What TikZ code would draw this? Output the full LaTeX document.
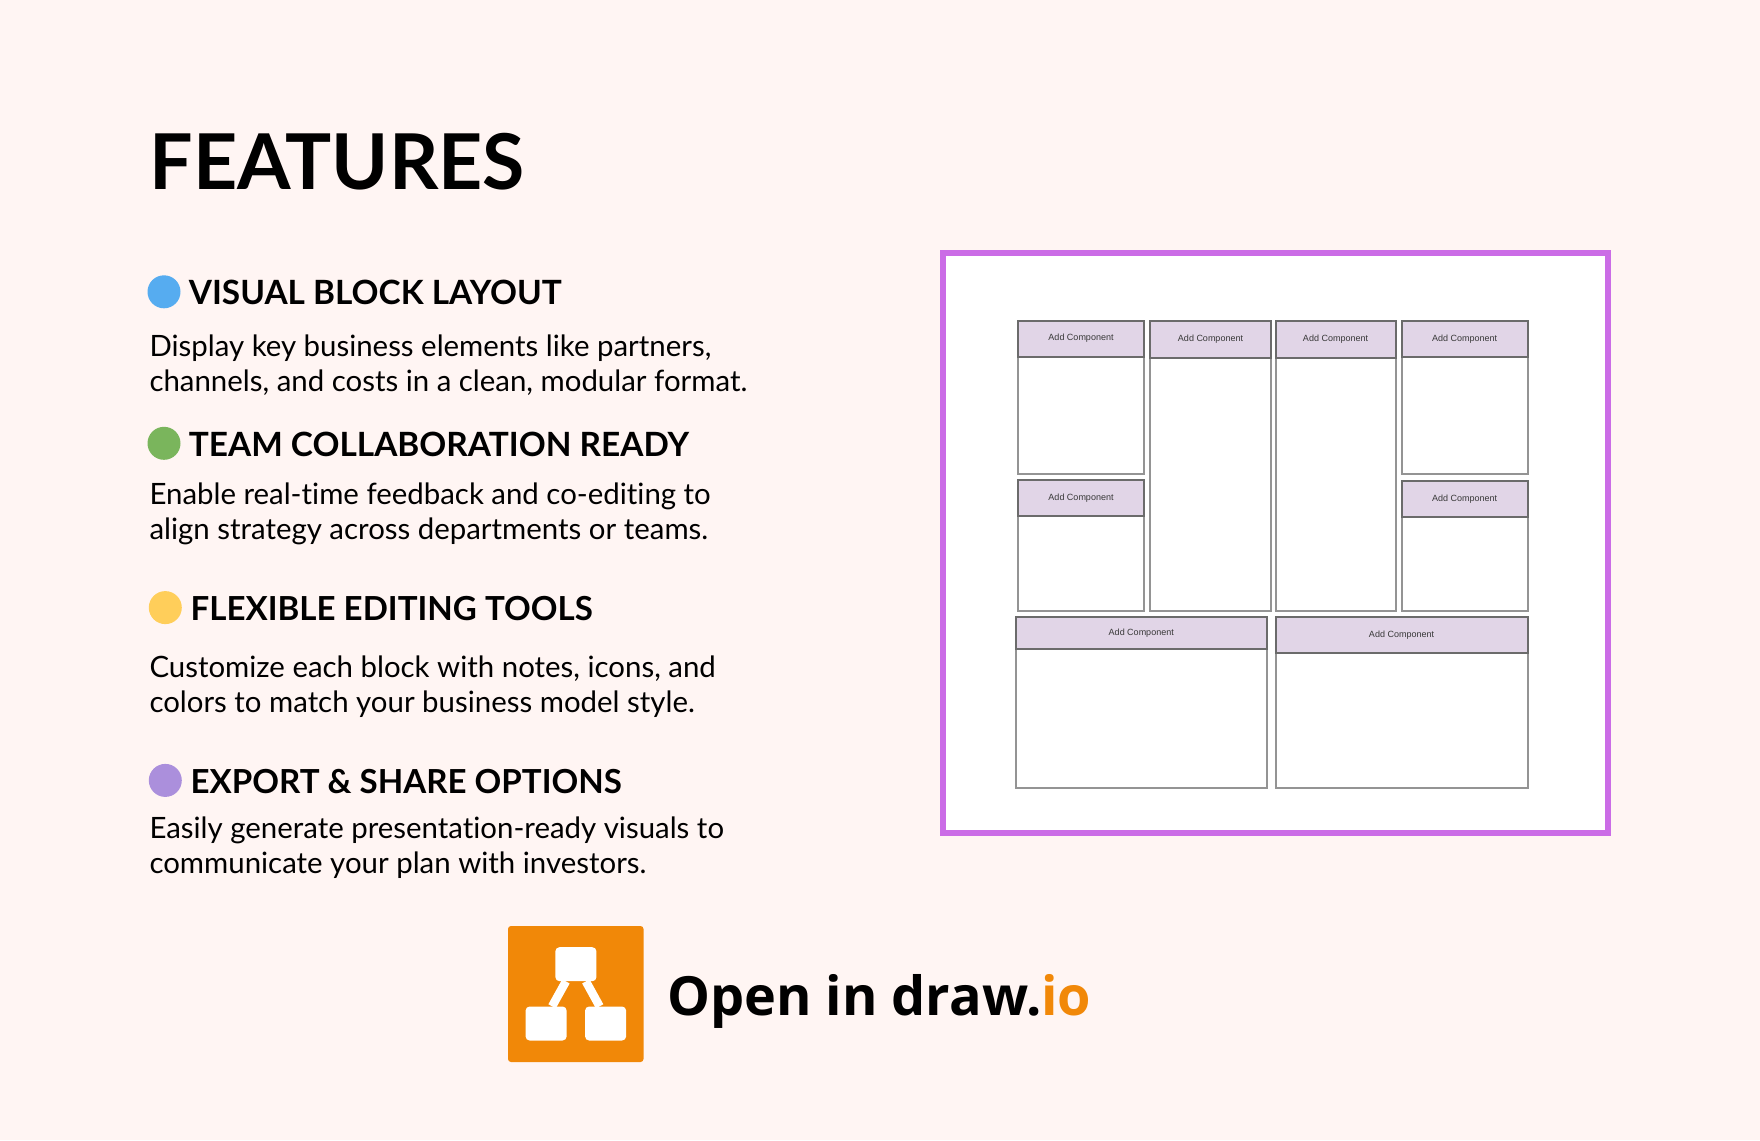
\documentclass[tikz,border=0pt]{standalone}
\usepackage{fontspec}
\newfontfamily\latofont[Ligatures=NoCommon]{Lato}
\newfontfamily\logofont{Open Sans}
\newfontfamily\cardfont{Liberation Sans}
\definecolor{pagebg}{HTML}{FFF5F3}
\definecolor{framepurple}{HTML}{CB6CE6}
\definecolor{headfill}{HTML}{E1D5E7}
\definecolor{drawioorange}{HTML}{F18808}
\definecolor{dotblue}{HTML}{56ACF0}
\definecolor{dotgreen}{HTML}{7AB55C}
\definecolor{dotyellow}{HTML}{FFCE5A}
\definecolor{dotpurple}{HTML}{AB8FDC}
\tikzset{
    titletext/.style={anchor=base west,inner sep=0pt,font=\latofont\bfseries\fontsize{77}{90}\selectfont},
    headtext/.style={anchor=base west,inner sep=0pt,font=\latofont\bfseries\fontsize{33.4}{40}\selectfont},
    headshort/.style={anchor=base west,inner sep=0pt,font=\latofont\bfseries\fontsize{33.1}{40}\selectfont},
    bodytext/.style={anchor=north west,inner sep=0pt,align=left,font=\latofont\fontsize{29.4}{35}\selectfont},
    featuredot/.style={circle,inner sep=0pt,minimum size=33},
    cardbox/.style={draw=black!42,line width=2pt,fill=white,anchor=north west,inner sep=0pt},
    cardhead/.style={draw=black!58,line width=2pt,fill=headfill,anchor=north west,inner sep=0pt,text=black!78,font=\cardfont\fontsize{9}{11}\selectfont},
    logonode/.style={fill=white,rounded corners=4pt,minimum width=41,minimum height=34,inner sep=0pt},
    logolink/.style={white,line width=8.5pt},
}
\begin{document}
\begin{tikzpicture}[x=1pt,y=-1pt]
                \useasboundingbox (0,0) rectangle (1760,1140);
                \fill[pagebg] (0,0) rectangle (1760,1140);

                \node[titletext] (title) at(149.6,189.5){FEATURES};

                \node[featuredot,fill=dotblue] (dotA) at(164,291.8){};
                \node[headtext] (headA) at(188.6,304.8){VISUAL BLOCK LAYOUT};
                \node[bodytext] (bodyA) at(149.3,335){Display key business elements like partners,\\channels, and costs in a clean, modular format.};

                \node[featuredot,fill=dotgreen] (dotB) at(164,443.3){};
                \node[headtext] (headB) at(188.6,456.8){TEAM COLLABORATION READY};
                \node[bodytext] (bodyB) at(149.3,483){Enable real-time feedback and co-editing to\\align strategy across departments or teams.};

                \node[featuredot,fill=dotyellow] (dotC) at(165.3,607.6){};
                \node[headshort] (headC) at(190.4,620.7){FLEXIBLE EDITING TOOLS};
                \node[bodytext] (bodyC) at(149.3,656){Customize each block with notes, icons, and\\colors to match your business model style.};

                \node[featuredot,fill=dotpurple] (dotD) at(165.3,780.4){};
                \node[headshort] (headD) at(190.4,793.5){EXPORT \& SHARE OPTIONS};
                \node[bodytext] (bodyD) at(149.3,816.5){Easily generate presentation-ready visuals to\\communicate your plan with investors.};

                \draw[framepurple,line width=6pt,fill=white] (943.3,253) rectangle (1608,833);

                \node[cardbox,minimum width=126,minimum height=153.5] (cardA) at(1017,319.5){};
                \node[cardhead,minimum width=126,minimum height=36] (capA) at(cardA.north west){Add Component};
                \node[cardbox,minimum width=126,minimum height=130.5] (cardB) at(1017,479){};
                \node[cardhead,minimum width=126,minimum height=36] (capB) at(cardB.north west){Add Component};
                \node[cardbox,minimum width=121,minimum height=290] (cardC) at(1149,320){};
                \node[cardhead,minimum width=121,minimum height=36.5] (capC) at(cardC.north west){Add Component};
                \node[cardbox,minimum width=120,minimum height=290] (cardD) at(1274.5,320){};
                \node[cardhead,minimum width=120,minimum height=36.5] (capD) at(cardD.north west){Add Component};
                \node[cardbox,minimum width=126,minimum height=153.5] (cardE) at(1400.5,319.5){};
                \node[cardhead,minimum width=126,minimum height=36.5] (capE) at(cardE.north west){Add Component};
                \node[cardbox,minimum width=126,minimum height=130] (cardF) at(1400.5,480){};
                \node[cardhead,minimum width=126,minimum height=35.5] (capF) at(cardF.north west){Add Component};
                \node[cardbox,minimum width=251.5,minimum height=171] (cardG) at(1014.5,616){};
                \node[cardhead,minimum width=251.5,minimum height=32] (capG) at(cardG.north west){Add Component};
                \node[cardbox,minimum width=252,minimum height=171] (cardH) at(1274.5,616){};
                \node[cardhead,minimum width=252,minimum height=35.5] (capH) at(cardH.north west){Add Component};

                \fill[drawioorange,rounded corners=3pt] (508,926) rectangle (643.5,1062);
                \node[logonode] (logoTop) at(575.9,964.2){};
                \node[logonode] (logoLeft) at(546.1,1023.5){};
                \node[logonode] (logoRight) at(605.6,1023.5){};
                \draw[logolink] ([xshift=-10]logoTop.south)--([xshift=6]logoLeft.north);
                \draw[logolink] ([xshift=10]logoTop.south)--([xshift=-6]logoRight.north);
                \node[anchor=base west,inner sep=0pt,font=\logofont\bfseries\fontsize{54}{64}\selectfont] (logotext) at(667,1015.5){Open in draw.\textcolor{drawioorange}{io}};
            \end{tikzpicture}
\end{document}
